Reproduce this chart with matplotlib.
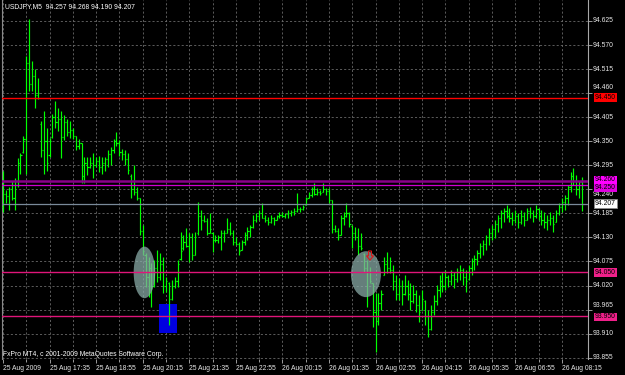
import matplotlib

matplotlib.use("Agg")
import matplotlib.pyplot as plt  # noqa: E402
import matplotlib.transforms as mtransforms  # noqa: E402
from matplotlib.patches import Ellipse, Polygon, Rectangle  # noqa: E402
import numpy as np  # noqa: E402

# USDJPY M5 bars, 25 Aug 2009 16:15 -> 26 Aug 2009 ~08:50
OPENS = [
    94.200, 94.230, 94.225, 94.240, 94.220, 94.260, 94.300, 94.325, 94.355, 94.530,
    94.480, 94.500, 94.455, 94.390, 94.330, 94.350, 94.318, 94.360, 94.405, 94.395,
    94.400, 94.360, 94.395, 94.370, 94.375, 94.362, 94.340, 94.345, 94.270, 94.300,
    94.290, 94.300, 94.295, 94.305, 94.290, 94.300, 94.310, 94.320, 94.330, 94.350,
    94.345, 94.325, 94.320, 94.310, 94.270, 94.240, 94.235, 94.220, 94.145, 94.090,
    94.040, 94.060, 94.020, 94.060, 94.040, 94.070, 94.020, 94.025, 93.990, 94.020,
    94.030, 94.080, 94.105, 94.120, 94.110, 94.130, 94.090, 94.140, 94.180, 94.170,
    94.168, 94.140, 94.140, 94.125, 94.125, 94.130, 94.140, 94.140, 94.150, 94.140,
    94.120, 94.115, 94.102, 94.120, 94.135, 94.145, 94.155, 94.170, 94.178, 94.185,
    94.175, 94.170, 94.165, 94.175, 94.170, 94.178, 94.182, 94.180, 94.184, 94.186,
    94.188, 94.190, 94.195, 94.195, 94.205, 94.221, 94.228, 94.240, 94.230, 94.235,
    94.234, 94.240, 94.236, 94.215, 94.150, 94.145, 94.136, 94.175, 94.180, 94.185,
    94.157, 94.140, 94.130, 94.110, 94.092, 94.060, 94.050, 94.025, 93.960, 93.940,
    93.980, 94.045, 94.070, 94.060, 94.055, 94.030, 94.000, 94.020, 94.000, 94.020,
    94.000, 93.985, 94.000, 93.975, 93.965, 93.985, 93.950, 93.920, 93.960, 93.985,
    94.010, 94.030, 94.020, 94.040, 94.030, 94.045, 94.035, 94.050, 94.055, 94.040,
    94.035, 94.060, 94.075, 94.080, 94.095, 94.110, 94.115, 94.130, 94.140, 94.150,
    94.160, 94.175, 94.185, 94.190, 94.180, 94.175, 94.170, 94.180, 94.165, 94.180,
    94.170, 94.190, 94.185, 94.178, 94.195, 94.180, 94.170, 94.165, 94.170, 94.175,
    94.166, 94.185, 94.200, 94.210, 94.220, 94.245, 94.270, 94.260, 94.240, 94.257,
]
HIGHS = [
    94.283, 94.238, 94.245, 94.260, 94.267, 94.311, 94.322, 94.363, 94.545, 94.630,
    94.534, 94.516, 94.495, 94.397, 94.420, 94.381, 94.358, 94.413, 94.443, 94.425,
    94.420, 94.409, 94.402, 94.397, 94.381, 94.363, 94.356, 94.347, 94.313, 94.313,
    94.313, 94.322, 94.313, 94.317, 94.313, 94.315, 94.329, 94.336, 94.356, 94.370,
    94.352, 94.333, 94.329, 94.322, 94.276, 94.295, 94.245, 94.220, 94.158, 94.094,
    94.085, 94.071, 94.078, 94.101, 94.094, 94.085, 94.040, 94.028, 94.033, 94.040,
    94.078, 94.142, 94.135, 94.151, 94.140, 94.140, 94.142, 94.210, 94.192, 94.181,
    94.174, 94.185, 94.142, 94.135, 94.135, 94.147, 94.147, 94.174, 94.165, 94.147,
    94.130, 94.119, 94.124, 94.142, 94.153, 94.158, 94.181, 94.185, 94.192, 94.208,
    94.181, 94.176, 94.181, 94.176, 94.181, 94.188, 94.188, 94.185, 94.192, 94.192,
    94.197, 94.231, 94.199, 94.204, 94.222, 94.233, 94.245, 94.254, 94.242, 94.238,
    94.254, 94.242, 94.242, 94.215, 94.158, 94.151, 94.181, 94.188, 94.208, 94.188,
    94.158, 94.153, 94.151, 94.140, 94.094, 94.078, 94.062, 94.026, 94.003, 94.003,
    94.010, 94.085, 94.096, 94.085, 94.067, 94.044, 94.037, 94.033, 94.044, 94.033,
    94.026, 94.021, 94.010, 93.998, 94.010, 93.987, 93.964, 93.976, 93.998, 94.021,
    94.044, 94.051, 94.055, 94.044, 94.055, 94.051, 94.060, 94.067, 94.060, 94.055,
    94.067, 94.083, 94.090, 94.101, 94.117, 94.124, 94.135, 94.151, 94.158, 94.169,
    94.181, 94.192, 94.197, 94.204, 94.197, 94.188, 94.192, 94.185, 94.192, 94.188,
    94.197, 94.199, 94.192, 94.204, 94.197, 94.192, 94.188, 94.181, 94.188, 94.181,
    94.192, 94.208, 94.220, 94.226, 94.249, 94.279, 94.288, 94.272, 94.260, 94.268,
]
LOWS = [
    94.188, 94.208, 94.192, 94.215, 94.192, 94.245, 94.276, 94.322, 94.276, 94.466,
    94.466, 94.427, 94.447, 94.313, 94.276, 94.283, 94.313, 94.358, 94.381, 94.374,
    94.311, 94.352, 94.363, 94.358, 94.356, 94.329, 94.333, 94.254, 94.254, 94.272,
    94.288, 94.267, 94.290, 94.279, 94.276, 94.283, 94.290, 94.295, 94.324, 94.340,
    94.317, 94.306, 94.295, 94.276, 94.220, 94.226, 94.215, 94.135, 94.090, 94.017,
    93.994, 93.971, 94.017, 94.028, 94.033, 94.003, 94.005, 93.930, 93.987, 94.014,
    94.017, 94.078, 94.101, 94.108, 94.074, 94.078, 94.090, 94.135, 94.147, 94.165,
    94.135, 94.140, 94.096, 94.119, 94.117, 94.101, 94.119, 94.140, 94.135, 94.112,
    94.112, 94.090, 94.101, 94.112, 94.124, 94.130, 94.151, 94.165, 94.169, 94.174,
    94.165, 94.158, 94.163, 94.158, 94.169, 94.174, 94.176, 94.174, 94.174, 94.178,
    94.181, 94.188, 94.188, 94.192, 94.204, 94.220, 94.222, 94.226, 94.226, 94.226,
    94.233, 94.226, 94.208, 94.140, 94.142, 94.124, 94.135, 94.158, 94.176, 94.153,
    94.106, 94.124, 94.090, 94.101, 94.051, 93.971, 94.026, 93.926, 93.869, 93.930,
    93.964, 94.044, 94.049, 94.049, 94.010, 93.987, 93.987, 93.976, 93.998, 93.987,
    93.964, 93.980, 93.960, 93.937, 93.964, 93.930, 93.903, 93.919, 93.953, 93.976,
    93.994, 94.005, 94.010, 94.017, 94.021, 94.014, 94.028, 94.033, 94.021, 94.005,
    94.033, 94.044, 94.055, 94.067, 94.083, 94.090, 94.101, 94.112, 94.124, 94.128,
    94.142, 94.151, 94.165, 94.174, 94.165, 94.158, 94.163, 94.151, 94.160, 94.156,
    94.169, 94.174, 94.165, 94.174, 94.169, 94.158, 94.151, 94.147, 94.158, 94.142,
    94.165, 94.181, 94.188, 94.192, 94.204, 94.233, 94.249, 94.226, 94.220, 94.190,
]
CLOSES = [
    94.230, 94.225, 94.240, 94.220, 94.260, 94.300, 94.318, 94.355, 94.530, 94.480,
    94.500, 94.455, 94.460, 94.330, 94.350, 94.300, 94.350, 94.405, 94.395, 94.400,
    94.360, 94.395, 94.370, 94.375, 94.362, 94.340, 94.345, 94.270, 94.300, 94.290,
    94.300, 94.295, 94.305, 94.290, 94.300, 94.310, 94.320, 94.330, 94.350, 94.345,
    94.325, 94.320, 94.310, 94.285, 94.240, 94.235, 94.220, 94.145, 94.100, 94.040,
    94.060, 94.020, 94.060, 94.040, 94.070, 94.020, 94.030, 93.990, 94.020, 94.030,
    94.070, 94.100, 94.120, 94.110, 94.130, 94.090, 94.130, 94.180, 94.170, 94.168,
    94.140, 94.150, 94.125, 94.125, 94.130, 94.140, 94.140, 94.150, 94.140, 94.120,
    94.115, 94.100, 94.120, 94.135, 94.145, 94.155, 94.170, 94.178, 94.185, 94.175,
    94.170, 94.165, 94.175, 94.170, 94.178, 94.182, 94.180, 94.184, 94.186, 94.188,
    94.190, 94.195, 94.195, 94.200, 94.218, 94.228, 94.240, 94.230, 94.235, 94.232,
    94.240, 94.236, 94.215, 94.150, 94.145, 94.130, 94.175, 94.180, 94.185, 94.160,
    94.140, 94.130, 94.110, 94.105, 94.060, 94.050, 94.030, 93.960, 93.940, 93.980,
    94.000, 94.070, 94.060, 94.055, 94.030, 94.000, 94.020, 94.000, 94.020, 94.000,
    93.985, 94.000, 93.975, 93.960, 93.990, 93.950, 93.920, 93.960, 93.985, 94.010,
    94.030, 94.020, 94.040, 94.030, 94.045, 94.035, 94.050, 94.055, 94.040, 94.030,
    94.060, 94.075, 94.080, 94.095, 94.110, 94.115, 94.130, 94.140, 94.150, 94.160,
    94.175, 94.185, 94.190, 94.180, 94.175, 94.170, 94.180, 94.165, 94.180, 94.170,
    94.190, 94.185, 94.178, 94.195, 94.180, 94.170, 94.165, 94.170, 94.175, 94.160,
    94.185, 94.200, 94.210, 94.220, 94.245, 94.270, 94.260, 94.240, 94.257, 94.207,
]

TIME_LABELS = [
    "25 Aug 2009", "25 Aug 17:35", "25 Aug 18:55", "25 Aug 20:15", "25 Aug 21:35",
    "25 Aug 22:55", "26 Aug 00:15", "26 Aug 01:35", "26 Aug 02:55", "26 Aug 04:15",
    "26 Aug 05:35", "26 Aug 06:55", "26 Aug 08:15",
]
PRICE_TICKS = [
    94.625, 94.570, 94.515, 94.460, 94.405, 94.350, 94.295, 94.240,
    94.185, 94.130, 94.075, 94.020, 93.965, 93.910, 93.855,
]
# a few scale labels sit under the price boxes; nudge them (points) like MT4 does
LABEL_NUDGE = {94.460: 4.0, 94.240: -3.5, 93.965: 3.0}

# horizontal lines: (price, line colour, width, label box colour, box nudge in points)
LEVELS = [
    (94.450, "#ff0000", 1.0, "#ff0000", 0.0),
    (94.250, "#d000d0", 0.9, "#e000e0", -2.0),
    (94.260, "#8a008a", 1.8, "#ff00ff", 0.5),
    (94.050, "#e0157a", 1.0, "#f0208a", 0.0),
    (93.950, "#e0157a", 1.0, "#f0208a", -0.5),
]
BID = 94.207
# down-arrow object near the second ellipse: outline vertices (bar index, price)
ARROW_X = [125.6, 126.6, 126.6, 127.3, 126.1, 124.9, 125.6]
ARROW_Y = [94.099, 94.099, 94.088, 94.088, 94.078, 94.088, 94.088]
HEADER = "USDJPY,M5  94.257 94.268 94.190 94.207"
FOOTER = "FxPro MT4, c 2001-2009 MetaQuotes Software Corp."

FONT = "Liberation Sans"
FS = 4.9

fig = plt.figure(figsize=(6.25, 3.75), dpi=100, facecolor="black")
ax = fig.add_axes([2 / 625, 16 / 375, 586 / 625, 359 / 375], facecolor="black")

x = np.arange(len(CLOSES))
bar_col = "#00ff00"
ax.vlines(x, LOWS, HIGHS, color=bar_col, linewidth=0.85, zorder=3)
ax.hlines(OPENS, x - 0.4, x, color=bar_col, linewidth=0.85, zorder=3)
ax.hlines(CLOSES, x, x + 0.4, color=bar_col, linewidth=0.85, zorder=3)

# objects drawn on the chart
ax.add_patch(Rectangle((53.6, 93.912), 6.2, 0.066, facecolor="#0000e0",
                       edgecolor="none", zorder=2))
ax.add_patch(Ellipse((48.6, 94.050), 7.4, 0.118, facecolor="#88aaa6",
                     edgecolor="none", alpha=0.75, zorder=4))
ax.add_patch(Ellipse((124.7, 94.046), 10.3, 0.105, facecolor="#88aaa6",
                     edgecolor="none", alpha=0.75, zorder=4))
ax.add_patch(Polygon(np.column_stack([ARROW_X, ARROW_Y]), closed=True,
                     facecolor="none", edgecolor="#e01818", linewidth=0.8,
                     zorder=5))

for price, col, lw, _, _ in LEVELS:
    ax.axhline(price, color=col, linewidth=lw, zorder=5)
ax.axhline(BID, color="#7a8a9a", linewidth=0.9, zorder=5)

ax.set_xlim(-0.34, 201.0)
ax.set_ylim(93.852, 94.673)

# grid / axes
ax.set_yticks(PRICE_TICKS)
ax.yaxis.tick_right()
ax.tick_params(axis="y", labelright=False)
major_x = np.arange(0, len(TIME_LABELS) * 16, 16)
ax.set_xticks(major_x)
ax.set_xticklabels(TIME_LABELS, fontsize=FS, family=FONT, color="#e8e8e8",
                   ha="left")
ax.set_xticks(np.arange(8, len(CLOSES), 16), minor=True)
ax.tick_params(axis="both", which="both", color="#9a9a9a", length=3, width=0.7,
               pad=1.5)
ax.tick_params(axis="x", which="minor", length=2)
ax.grid(True, which="both", color="#6a6a6a", linestyle=(0, (2.5, 2.5)),
        linewidth=0.6, zorder=1)
ax.set_axisbelow(True)
for side in ("top", "bottom"):
    ax.spines[side].set_visible(False)
ax.spines["right"].set_color("#a8a8a8")
ax.spines["left"].set_color("#8a8a8a")

trans = mtransforms.blended_transform_factory(ax.transAxes, ax.transData)


def nudged(points):
    return trans + mtransforms.ScaledTranslation(0, points / 72, fig.dpi_scale_trans)


for p in PRICE_TICKS:
    ax.text(1.008, p, f"{p:.3f}", transform=nudged(LABEL_NUDGE.get(p, 0.0)),
            fontsize=FS, family=FONT, color="#e8e8e8", ha="left", va="center",
            clip_on=False, zorder=6)

# price boxes on the right scale
for price, _, _, box, dy in LEVELS:
    ax.text(1.012, price, f"{price:.3f}", transform=nudged(dy), fontsize=FS,
            family=FONT, color="black", ha="left", va="center", clip_on=False,
            zorder=10,
            bbox=dict(boxstyle="square,pad=0.12", facecolor=box, edgecolor="none"))
ax.text(1.012, BID, f"{BID:.3f}", transform=trans, fontsize=FS, family=FONT,
        color="black", ha="left", va="center", clip_on=False, zorder=10,
        bbox=dict(boxstyle="square,pad=0.12", facecolor="white",
                  edgecolor="#8a8a8a", linewidth=0.6))

fig.text(5 / 625, 1 - 7 / 375, HEADER, fontsize=FS, family=FONT, color="white",
         ha="left", va="center")
fig.text(3 / 625, 1 - 355 / 375, FOOTER, fontsize=FS, family=FONT, color="white",
         ha="left", va="center")

fig.savefig("out.png", dpi=100, facecolor="black")
